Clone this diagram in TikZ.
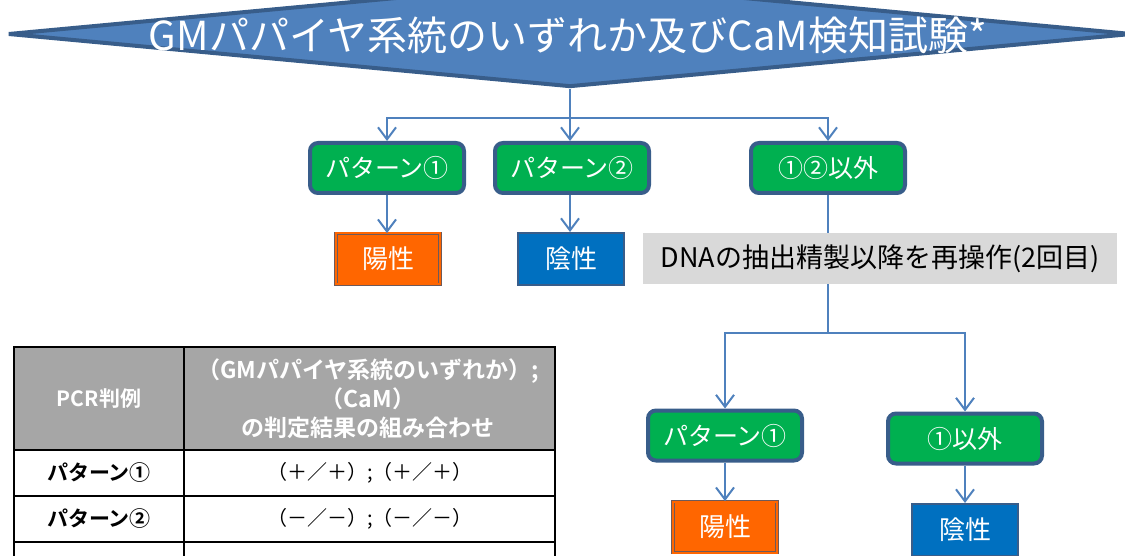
\documentclass[tikz,border=0pt]{standalone}
\usepackage{fontspec}
\setmainfont{Noto Sans CJK JP}[BoldFont={Noto Sans CJK JP Bold}]
\usetikzlibrary{shapes.geometric,arrows.meta}
\definecolor{dblue}{HTML}{4F81BD}
\definecolor{dborder}{HTML}{385D8A}
\definecolor{gbox}{HTML}{00B050}
\definecolor{obox}{HTML}{FF6600}
\definecolor{bbox}{HTML}{0070C0}
\definecolor{greybg}{HTML}{D9D9D9}
\definecolor{hdr}{HTML}{A6A6A6}
\tikzset{
  conn/.style={draw=dblue,line width=2pt},
  arr/.style={conn,-{Straight Barb[length=12pt,width=18pt,line width=2pt]}},
  greenbox/.style={draw=dborder,line width=4pt,fill=gbox,rounded corners=8pt,
    minimum width=154pt,minimum height=50pt,inner sep=0pt,text=white,font=\fontsize{25}{28}\selectfont},
  posbox/.style={draw={rgb,255:red,110;green,90;blue,90},double=obox,double distance=2pt,line width=0.8pt,fill=obox,
    minimum width=104pt,minimum height=51pt,inner sep=0pt,text=white,font=\fontsize{26}{28}\selectfont},
  negbox/.style={draw=dborder,line width=2pt,fill=bbox,
    minimum width=106pt,minimum height=52pt,inner sep=0pt,text=white,font=\fontsize{26}{28}\selectfont},
  tcell/.style={inner sep=0pt,font=\fontsize{20}{24}\selectfont},
  tbold/.style={inner sep=0pt,font=\bfseries\fontsize{21}{24}\selectfont},
}
\begin{document}
\begin{tikzpicture}[x=1pt,y=-1pt]
\useasboundingbox (0,0) rectangle (1125,556);
\begin{scope}
\clip (0,0) rectangle (1125,556);
% diamond
\node (dia) [diamond,draw=dborder,line width=4pt,fill=dblue,minimum width=1124pt,minimum height=106pt,inner sep=0pt] at (570,34) {};
\node (diat) at (568,35) {\color{white}\fontsize{40}{44}\selectfont GMパパイヤ系統のいずれか及びCaM検知試験*};
% first row
\node (p1) [greenbox] at (387,168) {パターン①};
\node (p2) [greenbox] at (572,168) {パターン②};
\node (p12) [greenbox] at (828,168) {①②以外};
\node (pos1) [posbox] at (388,259) {陽性};
\node (neg1) [negbox] at (571,259) {陰性};
\node (redo) [fill=greybg,minimum width=474pt,minimum height=51pt,inner sep=0pt,font=\fontsize{27}{30}\selectfont] at (880,258.5) {DNAの抽出精製以降を再操作(2回目)};
\coordinate (j1) at (570,118);
\draw[conn] (dia.south) -- (j1);
\draw[arr] (j1) -| (p1.north);
\draw[arr] (j1) -- (p2.north -| j1);
\draw[arr] (j1) -| (p12.north);
\draw[arr] (p1.south) -- (pos1.north -| p1.south);
\draw[arr] (p2.south -| j1) -- (neg1.north -| j1);
% second stage
\node (q1) [greenbox] at (725,435.5) {パターン①};
\node (q2) [greenbox] at (965,438.5) {①以外};
\node (pos2) [posbox] at (725,527) {陽性};
\node (neg2) [negbox] at (965,530) {陰性};
\coordinate (j2) at (828,333);
\draw[conn] (p12.south) -- (redo.north -| p12.south);
\draw[conn] (redo.south -| p12.south) -- (j2);
\draw[arr] (j2) -| (q1.north);
\draw[arr] (j2) -| (q2.north);
\draw[arr] (q1.south) -- (pos2.north);
\draw[arr] (q2.south) -- (neg2.north);
% table
\fill[hdr] (14,347) rectangle (555,450);
\draw[black,line width=2pt] (14,347) rectangle (555,600);
\draw[black,line width=2pt] (184,347) -- (184,600);
\draw[black,line width=2pt] (14,450) -- (555,450);
\draw[black,line width=2pt] (14,496) -- (555,496);
\draw[black,line width=2pt] (14,542) -- (555,542);
\node (h1) [tbold,text=white,font=\bfseries\fontsize{21}{24}\selectfont] at (99,399) {PCR判例};
\node (h2) [tbold,text=white,align=center,font=\bfseries\fontsize{23}{29}\selectfont] at (368,399) {（GMパパイヤ系統のいずれか）;\\（CaM）\\の判定結果の組み合わせ};
\node (r1a) [tbold] at (99,473) {パターン①};
\node (r1b) [tcell] at (370,473) {（＋／＋）;（＋／＋）};
\node (r2a) [tbold] at (99,519) {パターン②};
\node (r2b) [tcell] at (370,519) {（－／－）;（－／－）};
\end{scope}
\end{tikzpicture}
\end{document}
